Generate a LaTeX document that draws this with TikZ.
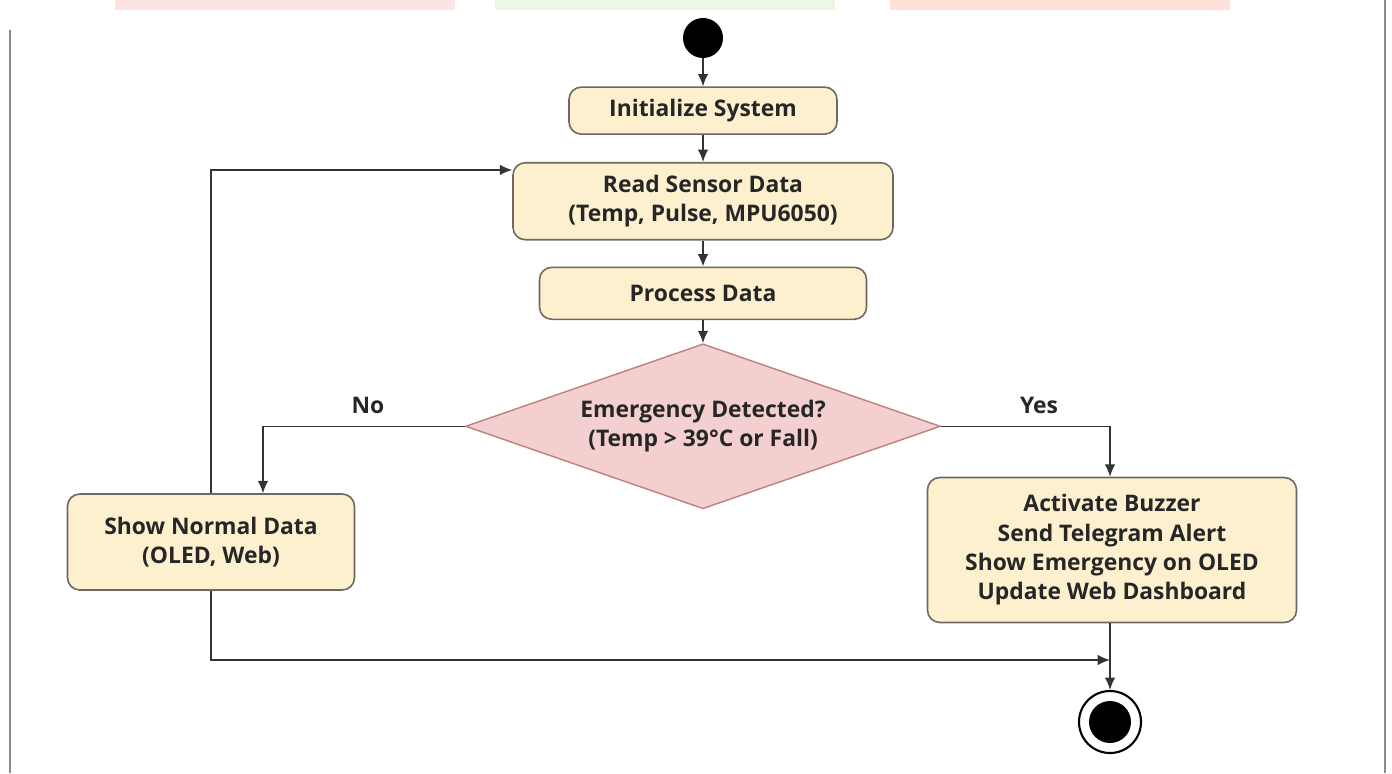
\documentclass[tikz,border=0pt]{standalone}
\usepackage{fontspec}
\setmainfont{Open Sans}
\usetikzlibrary{shapes.geometric, arrows.meta, positioning, calc}
\definecolor{creamBox}{RGB}{252,240,207}
\definecolor{boxLine}{RGB}{110,104,96}
\definecolor{pinkDiamond}{RGB}{243,207,207}
\definecolor{diamondLine}{RGB}{190,128,128}
\definecolor{pinkBar}{RGB}{253,228,228}
\definecolor{greenBar}{RGB}{236,248,228}
\definecolor{salmonBar}{RGB}{253,224,216}
\definecolor{frameGray}{RGB}{140,140,140}

\begin{document}
\begin{tikzpicture}[
    actbox/.style={rectangle, draw=boxLine, line width=0.9pt, fill=creamBox, rounded corners=7pt, align=center, font=\fontsize{13}{16.7}\selectfont\bfseries, text=black!85},
    decide/.style={diamond, aspect=2.9, draw=diamondLine, line width=0.8pt, fill=pinkDiamond, inner sep=0pt, align=center, font=\fontsize{13}{16.7}\selectfont\bfseries, text=black!85},
    lbl/.style={font=\fontsize{13}{15}\selectfont\bfseries, text=black!85},
    flow/.style={->, line width=0.9pt, draw=black!80},
    >={Latex[length=7pt,width=6pt]}
]
\useasboundingbox (0,0) rectangle (27.84,15.46);

% page remains
\fill[pinkBar] (2.3,15.26) rectangle (9.1,15.46);
\fill[greenBar] (9.9,15.26) rectangle (16.7,15.46);
\fill[salmonBar] (17.8,15.26) rectangle (24.6,15.46);
\draw[frameGray, line width=1pt] (0.2,0) -- (0.2,14.86);
\draw[frameGray, line width=1pt] (27.7,0) -- (27.7,15.46);

% main column
\node[circle, fill=black, minimum size=0.8cm, inner sep=0pt] (start) at (14.06,14.70) {};
\node[actbox, minimum width=5.36cm, minimum height=0.94cm, below=0.56cm of start] (init) {Initialize System};
\node[actbox, minimum width=7.6cm, minimum height=1.54cm, below=0.54cm of init] (read) {Read Sensor Data\\(Temp, Pulse, MPU6050)};
\node[actbox, minimum width=6.54cm, minimum height=1.04cm, below=0.52cm of read] (proc) {Process Data};
\node[decide, minimum width=9.5cm, minimum height=3.3cm, below=0.46cm of proc] (dec) {Emergency Detected?\\(Temp > 39°C or Fall)};

% branches
\node[actbox, minimum width=5.74cm, minimum height=1.92cm] (normal) at (4.22,4.62) {Show Normal Data\\(OLED, Web)};
\node[actbox, minimum width=7.38cm, minimum height=2.9cm] (act) at (22.24,4.46) {Activate Buzzer\\Send Telegram Alert\\Show Emergency on OLED\\Update Web Dashboard};
\node[lbl] (nolbl) at (7.36,7.36) {No};
\node[lbl] (yeslbl) at (20.78,7.36) {Yes};

% end
\node[circle, draw=black, line width=1.2pt, minimum size=1.24cm, inner sep=0pt] (stop) at (22.2,1.02) {};
\node[circle, fill=black, minimum size=0.84cm, inner sep=0pt] (stopdot) at (stop) {};

\coordinate (join) at (22.2,2.26);

\draw[flow] (start) -- (init);
\draw[flow] (init) -- (read);
\draw[flow] (read) -- (proc);
\draw[flow] (proc) -- (dec);
\draw[flow] (dec.west) -| ([xshift=1.04cm]normal.north);
\draw[flow] (dec.east) -| (act.north -| join);
\draw[flow] (normal.north) |- ([yshift=-0.16cm]read.north west);
\draw[flow] (normal.south) |- (join);
\draw[flow] (act.south -| join) -- (stop);
\end{tikzpicture}
\end{document}
